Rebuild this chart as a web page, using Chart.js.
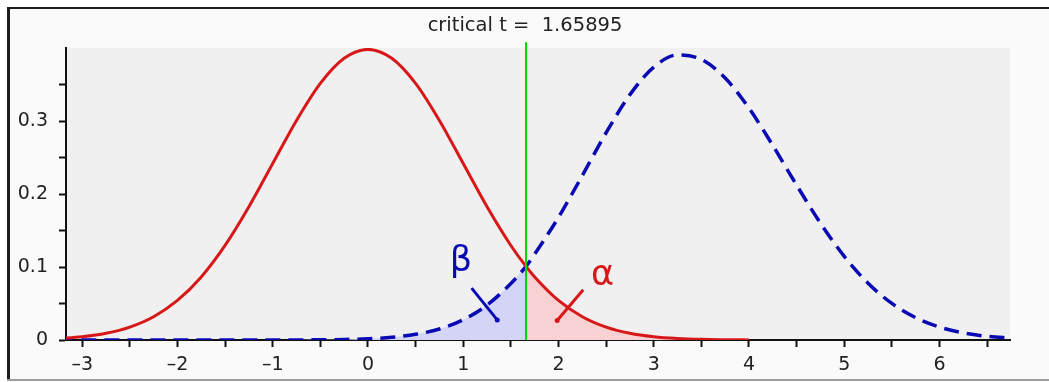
<!DOCTYPE html>
<html>
<head>
<meta charset="utf-8">
<script src="https://cdn.jsdelivr.net/npm/chart.js@4"></script>
<style>
  body { margin: 0; background: #fff; overflow: hidden; }
  #wrap { position: relative; width: 1049px; height: 382px; }
</style>
</head>
<body>
<div id="wrap"><canvas id="powerChart"></canvas></div>
<script>
// t values along the x axis (the critical value is included so both tails meet there)
const critT = 1.65895;
const tValues = [
  -3.25, -3, -2.75, -2.5, -2.25, -2, -1.75, -1.5, -1.25, -1,
  -0.75, -0.5, -0.25, 0, 0.25, 0.5, 0.75, 1, 1.25, 1.5,
  critT,
  1.75, 2, 2.25, 2.5, 2.75, 3, 3.25, 3.5, 3.75, 4,
  4.25, 4.5, 4.75, 5, 5.25, 5.5, 5.75, 6, 6.25, 6.5, 6.75
];
// null hypothesis density (red, solid)
const nullDensity = [
  0.0021, 0.0045, 0.0092, 0.0177, 0.0319, 0.0542, 0.0864, 0.1295, 0.1825, 0.2417,
  0.3007, 0.3515, 0.3859, 0.3981, 0.3859, 0.3515, 0.3007, 0.2417, 0.1825, 0.1295,
  0.1008,
  0.0864, 0.0542, 0.0319, 0.0177, 0.0092, 0.0045, 0.0021, 0.0009, 0.0004, 0.0001,
  null, null, null, null, null, null, null, null, null, null, null
];
// alternative hypothesis density (blue, dashed)
const altDensity = [
  0, 0, 0, 0, 0, 0, 0, 0, 0, 0,
  0.0001, 0.0003, 0.0007, 0.0017, 0.0037, 0.0078, 0.0151, 0.0278, 0.0478, 0.0774,
  0.1008,
  0.1177, 0.168, 0.2253, 0.2839, 0.3361, 0.3738, 0.3905, 0.3844, 0.3588, 0.3175,
  0.2665, 0.2121, 0.1601, 0.1146, 0.0778, 0.0501, 0.0306, 0.0177, 0.0097, 0.0051, 0.0025
];
const xTicks = [-3, -2, -1, 0, 1, 2, 3, 4, 5, 6];
const yTicks = [0, 0.1, 0.2, 0.3];

// little pointer strokes for the beta and alpha labels
const betaPointer = [[1.088, 0.0711], [1.357, 0.0275]];
const alphaPointer = [[2.26, 0.0688], [1.986, 0.0266]];
const betaLabel = [0.976, 0.094];
const alphaLabel = [2.462, 0.0753];

const RED = '#d81818';
const BLUE = '#0a0ab4';

const toPoints = (vals) => tValues.map((x, i) => ({x: x, y: vals[i]}));
const nullPts = toPoints(nullDensity);
const altPts = toPoints(altDensity);
const betaArea = altPts.filter(p => p.x <= critT);
const alphaArea = nullPts.filter(p => p.x >= critT && p.y !== null);

const backdrop = {
  id: 'backdrop',
  beforeDraw(chart) {
    const {ctx, chartArea: a, width} = chart;
    ctx.save();
    ctx.fillStyle = '#ffffff';
    ctx.fillRect(0, 0, width, chart.height);
    ctx.fillStyle = '#fafafa';
    ctx.fillRect(8, 7, width - 8, 372);
    ctx.fillStyle = '#1c1c1c';
    ctx.fillRect(7, 7, 3, 373);
    ctx.fillRect(7, 7, width - 7, 2);
    ctx.fillStyle = '#9c9c9c';
    ctx.fillRect(7, 379, width - 7, 2);
    ctx.fillStyle = '#f0f0f0';
    ctx.fillRect(a.left, a.top, a.right - a.left, a.bottom - a.top);
    ctx.restore();
  },
  afterDatasetsDraw(chart) {
    const {ctx, scales: {x, y}} = chart;
    ctx.save();
    ctx.textAlign = 'center';
    ctx.textBaseline = 'alphabetic';
    ctx.font = '35px "DejaVu Sans"';
    ctx.fillStyle = BLUE;
    ctx.fillText('β', x.getPixelForValue(betaLabel[0]), y.getPixelForValue(betaLabel[1]));
    ctx.fillStyle = RED;
    ctx.fillText('α', x.getPixelForValue(alphaLabel[0]), y.getPixelForValue(alphaLabel[1]));
    ctx.font = '19.5px "DejaVu Sans"';
    ctx.fillStyle = '#222';
    ctx.fillText('critical t =  ' + critT, x.getPixelForValue(critT) - 1, 31);
    ctx.restore();
  }
};

const lineOf = (pairs) => pairs.map(p => ({x: p[0], y: p[1]}));

const ctx = document.getElementById('powerChart');
ctx.chart = new Chart(ctx, {
  type: 'line',
  data: {
    datasets: [
      {
        data: lineOf(betaPointer), borderColor: BLUE, borderWidth: 3,
        pointRadius: [0, 2.5], pointBackgroundColor: BLUE, pointBorderWidth: 0, order: 0
      },
      {
        data: lineOf(alphaPointer), borderColor: RED, borderWidth: 3,
        pointRadius: [0, 2.5], pointBackgroundColor: RED, pointBorderWidth: 0, order: 0
      },
      {
        data: [{x: critT, y: 0}, {x: critT, y: 0.408}], borderColor: '#00d800',
        borderWidth: 2, pointRadius: 0, clip: false, order: 1
      },
      {
        data: nullPts, borderColor: RED, borderWidth: 3, pointRadius: 0,
        cubicInterpolationMode: 'monotone', order: 2
      },
      {
        data: altPts, borderColor: BLUE, borderWidth: 3.5, borderDash: [15, 8],
        pointRadius: 0, cubicInterpolationMode: 'monotone', order: 3
      },
      {
        data: betaArea, borderWidth: 0, pointRadius: 0, fill: 'origin',
        backgroundColor: '#d4d4f6', cubicInterpolationMode: 'monotone', order: 4
      },
      {
        data: alphaArea, borderWidth: 0, pointRadius: 0, fill: 'origin',
        backgroundColor: '#f8d2d2', cubicInterpolationMode: 'monotone', order: 4
      }
    ]
  },
  options: {
    responsive: true,
    maintainAspectRatio: false,
    animation: false,
    layout: { padding: { top: 48, right: 39, left: 0, bottom: 0 } },
    plugins: { legend: { display: false }, tooltip: { enabled: false }, title: { display: false } },
    scales: {
      x: {
        type: 'linear',
        min: -3.17,
        max: 6.74,
        afterFit: (s) => { s.height = 42; },
        border: { color: '#111', width: 2 },
        grid: { drawOnChartArea: false, tickLength: 7, tickColor: '#111', tickWidth: 2 },
        ticks: {
          stepSize: 0.5,
          includeBounds: false,
          autoSkip: false,
          maxRotation: 0,
          padding: 7,
          color: '#222',
          font: { family: 'DejaVu Sans', size: 19 },
          callback: (v) => {
            const t = xTicks.find(k => Math.abs(k - v) < 1e-6);
            if (t === undefined) return '';
            return t < 0 ? '\u2013' + Math.abs(t) : String(t);
          }
        }
      },
      y: {
        min: 0,
        max: 0.4,
        afterFit: (s) => { s.width = 66; },
        border: { color: '#111', width: 2 },
        grid: {
          drawOnChartArea: false, tickLength: 7, tickWidth: 2,
          tickColor: (c) => (c.tick && c.tick.value > 0.38 ? 'rgba(0,0,0,0)' : '#111')
        },
        ticks: {
          stepSize: 0.05,
          includeBounds: false,
          autoSkip: false,
          padding: 11,
          color: '#222',
          font: { family: 'DejaVu Sans', size: 19 },
          callback: (v) => {
            const t = yTicks.find(k => Math.abs(k - v) < 1e-6);
            return t === undefined ? '' : String(t);
          }
        }
      }
    }
  },
  plugins: [backdrop]
});
</script>
</body>
</html>
